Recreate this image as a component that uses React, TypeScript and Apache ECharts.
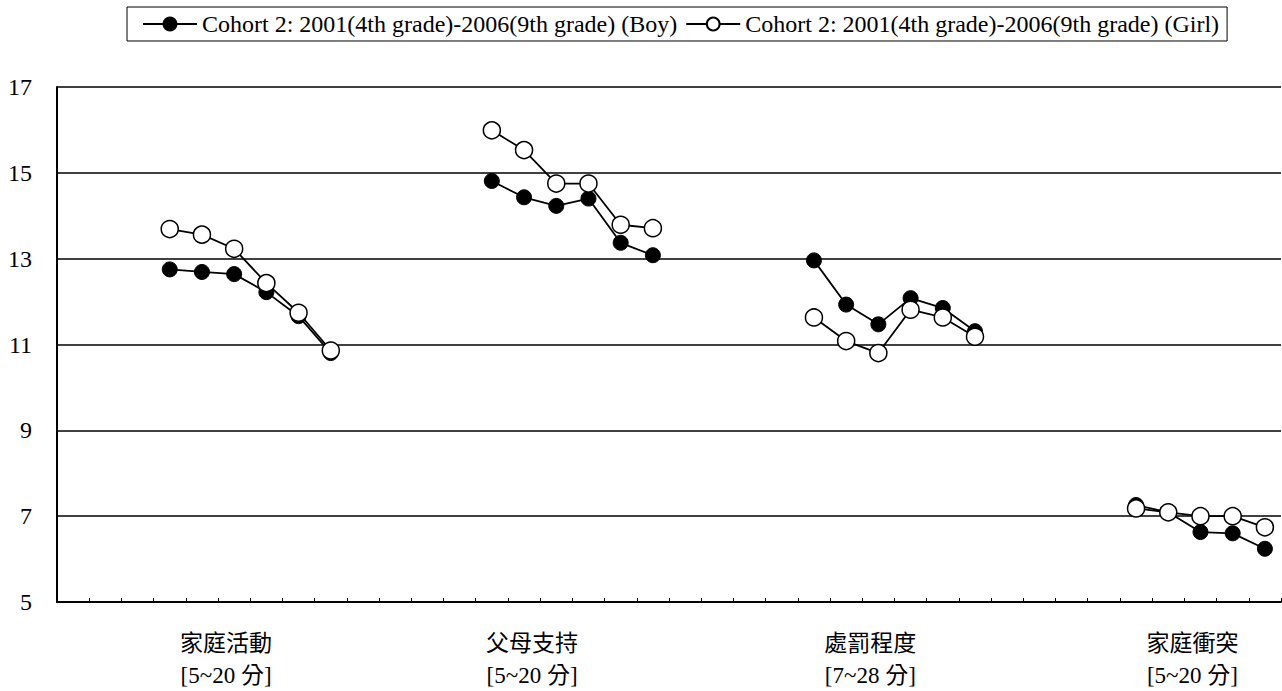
import React, { useEffect, useRef } from "react";
import * as echarts from "echarts";

// ---- data ----
const seriesNames = [
  "Cohort 2: 2001(4th grade)-2006(9th grade) (Boy)",
  "Cohort 2: 2001(4th grade)-2006(9th grade) (Girl)",
];
const groupLabels = ["家庭活動\n[5~20 分]", "父母支持\n[5~20 分]", "處罰程度\n[7~28 分]", "家庭衝突\n[5~20 分]"];
const groupStart = [3, 13, 23, 33];
const labelSlots = [10, 29, 50, 70]; // positions on the half-step label axis
const categoryCount = 38;

const boyValues = [
  [12.75, 12.69, 12.64, 12.22, 11.66, 10.8],
  [14.81, 14.43, 14.23, 14.4, 13.37, 13.08],
  [12.96, 11.93, 11.47, 12.08, 11.85, 11.31],
  [7.26, 7.09, 6.63, 6.6, 6.24],
];
const girlValues = [
  [13.69, 13.56, 13.23, 12.43, 11.74, 10.86],
  [15.99, 15.53, 14.75, 14.75, 13.79, 13.71],
  [11.63, 11.08, 10.8, 11.81, 11.63, 11.18],
  [7.18, 7.09, 7.0, 7.0, 6.74],
];
const yTicks = { min: 5, max: 17, interval: 2 };

const categories = Array.from({ length: categoryCount }, (_, i) => String(i));
const labelCategories = Array.from({ length: categoryCount * 2 }, (_, j) => {
  const k = labelSlots.indexOf(j);
  return k >= 0 ? groupLabels[k] : "";
});

function expand(groups: number[][]) {
  const out: (number | null)[] = new Array(categoryCount).fill(null);
  groups.forEach((g, gi) => g.forEach((v, i) => (out[groupStart[gi] + i] = v)));
  return out;
}

const FONT = "'Liberation Serif', 'Times New Roman', 'Noto Sans CJK TC', serif";

export default function App() {
  const ref = useRef<HTMLDivElement>(null);
  useEffect(() => {
    if (!ref.current) return;
    const chart = echarts.init(ref.current, null, { renderer: "svg" });
    chart.setOption({
      animation: false,
      backgroundColor: "#fff",
      textStyle: { fontFamily: FONT, color: "#000" },
      legend: {
        left: 127,
        top: 7,
        padding: [5, 8, 5, 15],
        borderColor: "#000",
        borderWidth: 1,
        itemWidth: 54,
        itemHeight: 16,
        itemGap: 8,
        textStyle: { fontFamily: FONT, fontSize: 24, color: "#000" },
        data: seriesNames,
      },
      grid: { left: 57, right: 1, top: 87, bottom: 82 },
      xAxis: [
        {
          type: "category",
          data: categories,
          boundaryGap: true,
          axisLine: { lineStyle: { color: "#000", width: 2 } },
          axisTick: { show: true, inside: true, length: 4, interval: 0, lineStyle: { color: "#000", width: 1 } },
          axisLabel: { show: false },
          splitLine: { show: false },
        },
        {
          type: "category",
          data: labelCategories,
          position: "bottom",
          boundaryGap: true,
          axisLine: { show: false },
          axisTick: { show: false },
          axisLabel: {
            interval: 0,
            margin: 25,
            fontFamily: FONT,
            fontSize: 23,
            lineHeight: 32,
            color: "#000",
          },
          splitLine: { show: false },
        },
      ],
      yAxis: {
        type: "value",
        min: yTicks.min,
        max: yTicks.max,
        interval: yTicks.interval,
        axisLine: { show: true, lineStyle: { color: "#000", width: 2 } },
        axisTick: { show: false },
        axisLabel: { fontFamily: FONT, fontSize: 24, color: "#000", margin: 25 },
        splitLine: { show: true, lineStyle: { color: "#000", width: 1.5 } },
      },
      series: [
        {
          name: seriesNames[0],
          type: "line",
          xAxisIndex: 0,
          data: expand(boyValues),
          connectNulls: false,
          symbol: "circle",
          symbolSize: 15,
          lineStyle: { color: "#000", width: 1.8 },
          itemStyle: { color: "#000", borderColor: "#000", borderWidth: 1 },
        },
        {
          name: seriesNames[1],
          type: "line",
          xAxisIndex: 0,
          data: expand(girlValues),
          connectNulls: false,
          symbol: "circle",
          symbolSize: 17,
          lineStyle: { color: "#000", width: 1.8 },
          itemStyle: { color: "#fff", borderColor: "#000", borderWidth: 1.5 },
        },
      ],
    });
    return () => chart.dispose();
  }, []);
  return (
    <div
      ref={ref}
      style={{ position: "fixed", left: 0, top: 0, width: 1282, height: 691, background: "#fff" }}
    />
  );
}
